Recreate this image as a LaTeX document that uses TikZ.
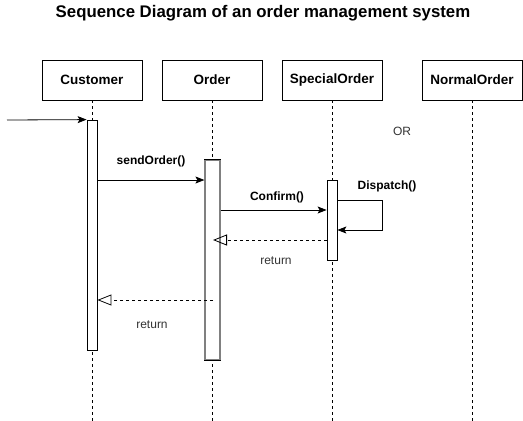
\documentclass[tikz,border=0pt]{standalone}
\usepackage{fontspec}
\setmainfont{Liberation Sans}
\usetikzlibrary{arrows.meta}
\begin{document}
\begin{tikzpicture}[x=1pt,y=-1pt,
  objbox/.style={draw=black,fill=white,minimum width=100pt,minimum height=40pt,inner sep=0pt,font=\fontsize{13.5}{15}\selectfont\bfseries},
  lifeline/.style={draw=black,dashed,dash pattern=on 3pt off 3pt,line width=0.7pt},
  actbox/.style={draw=black,fill=white,inner sep=0pt,line width=0.8pt},
  msg/.style={draw=black,line width=0.8pt,-{Stealth[length=9pt,width=7pt,inset=2pt]}},
  ret/.style={draw=black,line width=0.7pt,dash pattern=on 3pt off 3pt,-{Triangle[open,length=14pt,width=11pt,line width=0.8pt]}},
  lbl/.style={font=\fontsize{12}{14}\selectfont\bfseries,inner sep=0pt},
  rlbl/.style={font=\fontsize{12}{14}\selectfont,inner sep=0pt,text=black!80}]
\useasboundingbox[fill=white] (0,0) rectangle (523,421);
\node[font=\fontsize{16.8}{19}\selectfont\bfseries] (title) at (263,13) {Sequence Diagram of an order management system};
% objects
\node[objbox] (cust) at (92,80) {Customer};
\node[objbox] (ord) at (212,80) {Order};
\node[objbox] (spec) at (332,80) {SpecialOrder};
\node[objbox] (norm) at (472,80) {NormalOrder};
% lifeline ends
\coordinate (custE) at (92,421);
\coordinate (ordE) at (212,421);
\coordinate (specE) at (332,421);
\coordinate (normE) at (472,421);
\draw[lifeline] (cust.south) -- (custE);
\draw[lifeline] (ord.south) -- (ordE);
\draw[lifeline] (spec.south) -- (specE);
\draw[lifeline] (norm.south) -- (normE);
% activations
\node[actbox,minimum width=10pt,minimum height=230pt] (custA) at (92,235) {};
\node[draw=black!50,fill=white,inner sep=0pt,line width=1.2pt,minimum width=15pt,minimum height=200pt] (ordA) at (212.5,260) {};
\draw[line width=0.8pt] (ordA.north west) -- (ordA.north east);
\draw[line width=0.8pt] (ordA.south west) -- (ordA.south east);
\node[actbox,minimum width=10pt,minimum height=80pt] (specA) at (332,220) {};
% messages
\coordinate (start) at (7,120);
\draw[msg] (start) -- (custA.north west);
\draw[msg] (custA.east |- 0,180) -- (ordA.west |- 0,180);
\node[lbl] (sendL) at (151,161) {sendOrder()};
\draw[msg] (ordA.east |- 0,210) -- (specA.west |- 0,210);
\node[lbl] (confL) at (277,197) {Confirm()};
\coordinate (loopA) at (382,200);
\coordinate (loopB) at (382,230);
\draw[msg] (specA.east |- 0,200) -- (loopA) -- (loopB) -- (specA.east |- 0,230);
\node[lbl] (dispL) at (387,186) {Dispatch()};
\draw[ret] (specA.west |- 0,240) -- (213,240);
\node[rlbl] (ret1) at (276,261) {return};
\coordinate (ordR) at (213,300);
\draw[ret] (ordR) -- (custA.east |- 0,300);
\node[rlbl] (ret2) at (152,325) {return};
\node[rlbl] (orL) at (402,131) {OR};
\end{tikzpicture}
\end{document}
